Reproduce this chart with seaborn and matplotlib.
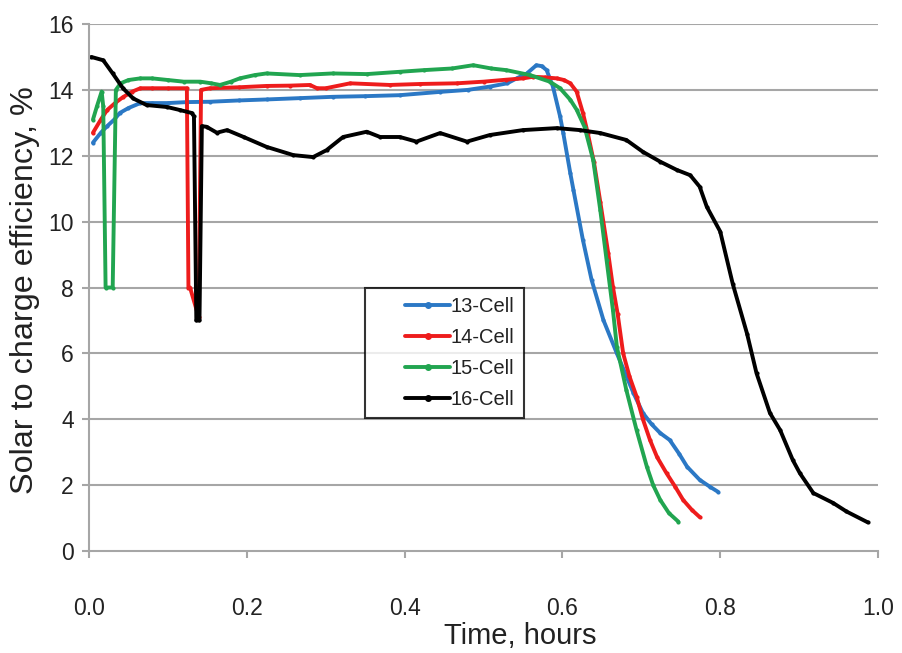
import matplotlib
matplotlib.use('Agg')
import matplotlib.pyplot as plt
from matplotlib.lines import Line2D
from matplotlib.legend_handler import HandlerLine2D
import seaborn as sn
import pandas as pd
import numpy as np

# values (time in hours, efficiency in %)
blue_t = [0.005, 0.015, 0.023, 0.032, 0.039, 0.05, 0.065, 0.08, 0.1, 0.124,
          0.153, 0.19, 0.225, 0.267, 0.309, 0.35, 0.394, 0.445, 0.48, 0.508,
          0.53, 0.542, 0.555, 0.567, 0.574, 0.58, 0.588, 0.597, 0.601, 0.61,
          0.614, 0.626, 0.637, 0.652, 0.669, 0.69, 0.702, 0.713, 0.724, 0.736,
          0.748, 0.758, 0.774, 0.787, 0.797]
blue_e = [12.4, 12.7, 12.9, 13.1, 13.3, 13.45, 13.6, 13.6, 13.6, 13.63,
          13.64, 13.68, 13.71, 13.75, 13.79, 13.81, 13.84, 13.94, 14.0, 14.1,
          14.2, 14.35, 14.5, 14.75, 14.72, 14.6, 14.1, 13.2, 12.7, 11.47,
          10.96, 9.44, 8.23, 7.01, 6.0, 4.8, 4.19, 3.85, 3.58, 3.37,
          2.95, 2.56, 2.16, 1.95, 1.8]

red_t = [0.005, 0.015, 0.023, 0.033, 0.043, 0.055, 0.065, 0.08, 0.1, 0.124,
         0.126, 0.128, 0.139, 0.142, 0.153, 0.19, 0.225, 0.255, 0.28, 0.289,
         0.3, 0.331, 0.381, 0.42, 0.466, 0.5, 0.529, 0.55, 0.563, 0.578,
         0.593, 0.602, 0.61, 0.618, 0.626, 0.632, 0.64, 0.648, 0.658, 0.664,
         0.67, 0.677, 0.685, 0.694, 0.702, 0.711, 0.72, 0.732, 0.743, 0.753,
         0.764, 0.774]
red_e = [12.7, 13.1, 13.39, 13.6, 13.78, 13.95, 14.05, 14.05, 14.05, 14.05,
         8.0, 8.0, 7.1, 14.0, 14.05, 14.08, 14.12, 14.13, 14.15, 14.05,
         14.05, 14.2, 14.15, 14.18, 14.2, 14.25, 14.31, 14.35, 14.4, 14.38,
         14.35, 14.3, 14.2, 13.95, 13.3, 12.7, 11.8, 10.6, 9.05, 8.02,
         7.2, 6.0, 5.3, 4.69, 4.0, 3.37, 2.85, 2.36, 1.95, 1.55,
         1.25, 1.03]

green_t = [0.005, 0.01, 0.016, 0.018, 0.021, 0.03, 0.034, 0.04, 0.05, 0.065,
           0.08, 0.1, 0.12, 0.141, 0.155, 0.166, 0.18, 0.191, 0.21, 0.225,
           0.267, 0.309, 0.352, 0.394, 0.424, 0.46, 0.487, 0.51, 0.529, 0.559,
           0.584, 0.597, 0.61, 0.618, 0.628, 0.639, 0.648, 0.656, 0.664, 0.669,
           0.681, 0.694, 0.707, 0.715, 0.724, 0.735, 0.747]
green_e = [13.1, 13.5, 13.95, 13.5, 8.0, 8.0, 14.0, 14.2, 14.3, 14.35,
           14.35, 14.3, 14.25, 14.25, 14.2, 14.15, 14.25, 14.35, 14.45, 14.5,
           14.45, 14.5, 14.48, 14.55, 14.6, 14.65, 14.75, 14.65, 14.6, 14.45,
           14.25, 14.05, 13.7, 13.4, 12.88, 11.87, 10.35, 8.83, 7.32, 6.2,
           4.89, 3.67, 2.56, 2.0, 1.55, 1.15, 0.89]

black_t = [0.003, 0.018, 0.03, 0.043, 0.056, 0.073, 0.099, 0.115, 0.13, 0.133,
           0.136, 0.14, 0.143, 0.149, 0.162, 0.175, 0.196, 0.225, 0.259, 0.284,
           0.301, 0.322, 0.352, 0.369, 0.394, 0.415, 0.445, 0.479, 0.508, 0.55,
           0.593, 0.622, 0.648, 0.681, 0.702, 0.724, 0.745, 0.762, 0.774, 0.783,
           0.8, 0.816, 0.834, 0.846, 0.863, 0.876, 0.892, 0.901, 0.918, 0.943,
           0.96, 0.987]
black_e = [15.0, 14.9, 14.5, 14.05, 13.74, 13.54, 13.48, 13.39, 13.3, 13.2,
           7.0, 7.0, 12.9, 12.88, 12.7, 12.78, 12.57, 12.27, 12.02, 11.96,
           12.17, 12.57, 12.73, 12.57, 12.57, 12.43, 12.69, 12.43, 12.63, 12.78,
           12.84, 12.78, 12.69, 12.48, 12.12, 11.82, 11.57, 11.41, 11.06, 10.45,
           9.7, 8.1, 6.6, 5.4, 4.19, 3.67, 2.76, 2.36, 1.76, 1.46,
           1.2, 0.87]

labels = ['13-Cell', '14-Cell', '15-Cell', '16-Cell']
colors = ['#2b78c5', '#ee1c1c', '#21a550', '#000000']

series = [(blue_t, blue_e), (red_t, red_e), (green_t, green_e), (black_t, black_e)]
frames = []
for lab, (t, e) in zip(labels, series):
    frames.append(pd.DataFrame({'time': t, 'eff': e, 'cell': lab}))
df = pd.concat(frames, ignore_index=True)

sn.set_style('white')
plt.rcParams['font.family'] = ['Liberation Sans', 'DejaVu Sans']

fig = plt.figure(figsize=(9.02, 6.53), dpi=100)
ax = fig.add_axes([0.0987, 0.1562, 0.8747, 0.807])

grid_col = '#a6a6a6'
txt_col = '#222222'
for v in range(2, 17, 2):
    ax.axhline(v, color=grid_col, lw=1.5, zorder=0)

sn.lineplot(data=df, x='time', y='eff', hue='cell', palette=colors,
            estimator=None, sort=False, linewidth=2.8, marker='o',
            markersize=3, markeredgewidth=0, legend=False, ax=ax)

ax.set_xlim(0, 1.0)
ax.set_ylim(0, 16)
xt = np.arange(0, 1.01, 0.2)
ax.set_xticks(xt)
ax.set_xticklabels(['%.1f' % v for v in xt])
ax.set_yticks(range(0, 17, 2))
ax.tick_params(axis='both', labelsize=16.5, labelcolor=txt_col, color=grid_col,
               length=5, width=1.5, direction='out')
ax.tick_params(axis='x', pad=28)
ax.tick_params(axis='y', pad=6)
ax.xaxis.set_ticks_position('bottom')
ax.yaxis.set_ticks_position('left')
for s in ['top', 'right']:
    ax.spines[s].set_visible(False)
for s in ['left', 'bottom']:
    ax.spines[s].set_color(grid_col)
    ax.spines[s].set_linewidth(1.5)

ax.set_xlabel('Time, hours', fontsize=21, color=txt_col)
ax.xaxis.set_label_coords(0.546, -0.135)
ax.set_ylabel('Solar to charge efficiency, %', fontsize=23.3, color=txt_col)
ax.yaxis.set_label_coords(-0.062, 0.495)

handles = [Line2D([], [], color=c, lw=2.8, marker='o', markersize=4) for c in colors]
leg = ax.legend(handles, labels, loc='upper left', bbox_to_anchor=(0.35, 0.499),
                borderaxespad=0, fontsize=14.5, frameon=True, fancybox=False,
                handlelength=3.75, borderpad=0.45, labelspacing=0.6,
                handletextpad=0.05,
                handler_map={Line2D: HandlerLine2D(xpad=1.55)})
leg.get_frame().set_edgecolor('black')
leg.get_frame().set_linewidth(1.5)
for txt in leg.get_texts():
    txt.set_color(txt_col)

fig.savefig('out.png', dpi=100)
